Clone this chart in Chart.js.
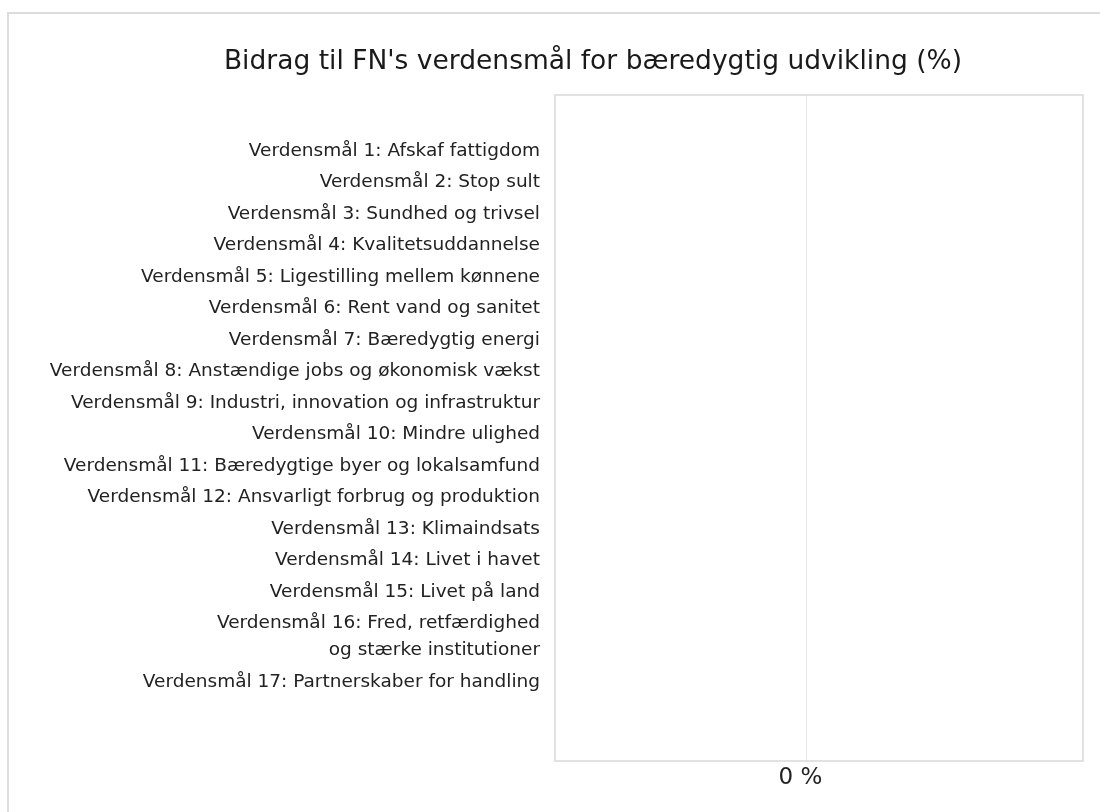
<!DOCTYPE html>
<html>
<head>
<meta charset="utf-8">
<script src="https://cdn.jsdelivr.net/npm/chart.js@4.4.1/dist/chart.umd.min.js"></script>
<style>
    html, body { margin: 0; padding: 0; background: #fff; overflow: hidden; }
    #frame { position: absolute; left: 7px; top: 12px; width: 1200px; height: 900px; border: 2px solid #dcdcdc; }
    #wrap { position: absolute; left: 0; top: 0; width: 1190px; height: 812px; }
</style>
</head>
<body>
<div id="frame"></div>
<div id="wrap"><canvas id="sdgChart"></canvas></div>
<script>
var goalLabels = [
    'Verdensmål 1: Afskaf fattigdom',
    'Verdensmål 2: Stop sult',
    'Verdensmål 3: Sundhed og trivsel',
    'Verdensmål 4: Kvalitetsuddannelse',
    'Verdensmål 5: Ligestilling mellem kønnene',
    'Verdensmål 6: Rent vand og sanitet',
    'Verdensmål 7: Bæredygtig energi',
    'Verdensmål 8: Anstændige jobs og økonomisk vækst',
    'Verdensmål 9: Industri, innovation og infrastruktur',
    'Verdensmål 10: Mindre ulighed',
    'Verdensmål 11: Bæredygtige byer og lokalsamfund',
    'Verdensmål 12: Ansvarligt forbrug og produktion',
    'Verdensmål 13: Klimaindsats',
    'Verdensmål 14: Livet i havet',
    'Verdensmål 15: Livet på land',
    ['Verdensmål 16: Fred, retfærdighed', 'og stærke institutioner'],
    'Verdensmål 17: Partnerskaber for handling'
];
var goalValues = [0, 0, 0, 0, 0, 0, 0, 0, 0, 0, 0, 0, 0, 0, 0, 0, 0];
var xTickValues = [0];

// wrapped labels take more room, so rows sit on a linear axis
var rowPos = [];
var acc = 0;
goalLabels.forEach(function(l) {
    var h = Array.isArray(l) ? 1 + 0.857 * (l.length - 1) : 1;
    rowPos.push(acc + h / 2);
    acc += h;
});

var plotBorder = {
    id: 'plotBorder',
    afterDraw: function(chart) {
        var a = chart.chartArea;
        var c = chart.ctx;
        c.save();
        c.strokeStyle = '#d9d9d9';
        c.lineWidth = 1.5;
        c.strokeRect(a.left, a.top, a.right - a.left, a.bottom - a.top);
        c.restore();
    }
};

document.addEventListener('DOMContentLoaded', function() {
    var ctx = document.getElementById('sdgChart').getContext('2d');
    var sdgChart = new Chart(ctx, {
        type: 'bar',
        data: {
            datasets: [{
                label: 'Bidrag (%)',
                data: goalValues.map(function(v, i) { return { x: v, y: rowPos[i] }; }),
                xAxisID: 'x',
                yAxisID: 'y',
                backgroundColor: '#4472c4',
                borderWidth: 0,
                inflateAmount: 0,
                barThickness: 20
            }]
        },
        options: {
            indexAxis: 'y',
            responsive: true,
            maintainAspectRatio: false,
            animation: false,
            layout: {
                padding: { left: 0, right: 4, top: 0, bottom: 17.4 }
            },
            plugins: {
                legend: { display: false },
                tooltip: { enabled: false },
                title: {
                    display: true,
                    text: "Bidrag til FN's verdensmål for bæredygtig udvikling (%)",
                    color: '#1a1a1a',
                    font: { family: 'DejaVu Sans', size: 26.5, weight: 'normal' },
                    padding: { top: 46.5, bottom: 16.7 }
                }
            },
            scales: {
                x: {
                    min: -1,
                    max: 1.1,
                    afterBuildTicks: function(axis) {
                        axis.ticks = xTickValues.map(function(v) { return { value: v }; });
                    },
                    grid: { color: '#e6e6e6', drawTicks: false },
                    border: { display: false },
                    ticks: {
                        callback: function(v) { return v + ' %'; },
                        font: { family: 'DejaVu Sans', size: 23 },
                        color: '#222',
                        padding: 3,
                        labelOffset: -6
                    }
                },
                y: {
                    type: 'linear',
                    reverse: true,
                    offset: false,
                    min: -1.278,
                    max: 19.865,
                    afterBuildTicks: function(axis) {
                        axis.ticks = rowPos.map(function(v) { return { value: v }; });
                    },
                    afterFit: function(axis) { axis.width = 555; },
                    grid: { display: false, drawTicks: false },
                    border: { display: false },
                    ticks: {
                        autoSkip: false,
                        callback: function(v, i) { return goalLabels[i]; },
                        font: { family: 'DejaVu Sans', size: 18.5, lineHeight: 27 / 18.5 },
                        color: '#222',
                        padding: 15
                    }
                },
                yRight: {
                    type: 'linear',
                    position: 'right',
                    afterFit: function(axis) { axis.width = 103; },
                    grid: { display: false, drawTicks: false },
                    border: { display: false },
                    ticks: { display: false }
                }
            }
        },
        plugins: [plotBorder]
    });
});
</script>
</body>
</html>
